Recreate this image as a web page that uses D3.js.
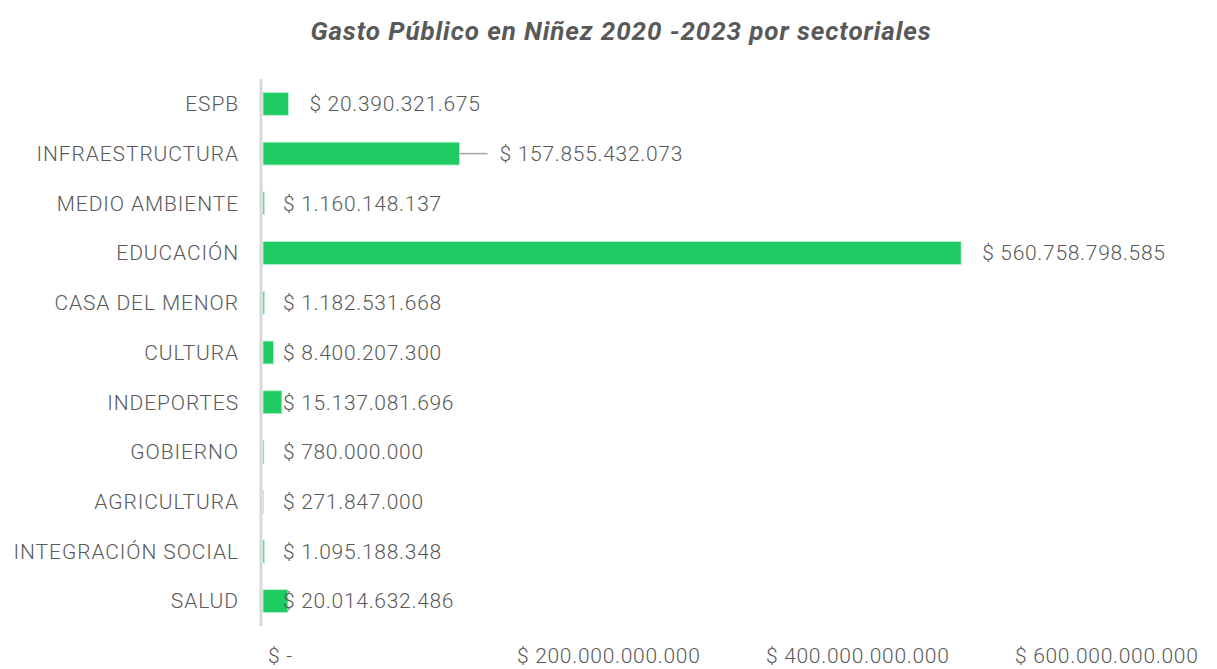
<!DOCTYPE html>
<html>
<head>
<meta charset="utf-8">
<script src="https://cdn.jsdelivr.net/npm/d3@7"></script>
<style>
  body { margin: 0; background: #fff; }
  text { font-family: Roboto, "Open Sans", sans-serif; fill: #595959; }
</style>
</head>
<body>
<svg id="gasto"></svg>
<script>
const sectors = ["ESPB", "INFRAESTRUCTURA", "MEDIO AMBIENTE", "EDUCACIÓN", "CASA DEL MENOR",
  "CULTURA", "INDEPORTES", "GOBIERNO", "AGRICULTURA", "INTEGRACIÓN SOCIAL", "SALUD"];
const amounts = [20390321675, 157855432073, 1160148137, 560758798585, 1182531668,
  8400207300, 15137081696, 780000000, 271847000, 1095188348, 20014632486];
const xTicks = [0, 200000000000, 400000000000, 600000000000];
const xTickLabels = ["$ -", "$ 200.000.000.000", "$ 400.000.000.000", "$ 600.000.000.000"];
// labels that sit after the bar end (the rest sit next to the axis)
const labelAtBarEnd = ["ESPB", "INFRAESTRUCTURA", "EDUCACIÓN"];
const leaderSectors = ["INFRAESTRUCTURA"];

const data = sectors.map((s, i) => ({sector: s, value: amounts[i]}));

const W = 1217, H = 669;
const svg = d3.select("#gasto").attr("width", W).attr("height", H);

const x = d3.scaleLinear().domain([0, 600000000000]).range([263, 1010]);
const y = d3.scaleBand().domain(sectors).range([79, 626]).paddingInner(0.54).paddingOuter(0.27);

const fmt = v => "$ " + d3.format(",")(v).replace(/,/g, ".");

svg.append("text")
  .attr("x", 621).attr("y", 40)
  .attr("text-anchor", "middle")
  .style("font-size", "26px").style("font-weight", "700").style("font-style", "italic")
  .style("letter-spacing", "0.9px")
  .text("Gasto Público en Niñez 2020 -2023 por sectoriales");

// category labels
svg.append("g").selectAll("text")
  .data(data).join("text")
  .attr("x", 239)
  .attr("y", d => y(d.sector) + y.bandwidth() / 2)
  .attr("dy", "0.35em")
  .attr("text-anchor", "end")
  .style("font-size", "21px").style("font-weight", "300")
  .style("letter-spacing", "0.9px")
  .text(d => d.sector);

// x tick labels
svg.append("g").selectAll("text")
  .data(xTicks).join("text")
  .attr("x", d => x(d) + 5)
  .attr("y", 656)
  .attr("dy", "0.35em")
  .style("font-size", "21px").style("font-weight", "300")
  .style("letter-spacing", "0.7px")
  .text((d, i) => xTickLabels[i]);

// bars
svg.append("g").selectAll("rect")
  .data(data).join("rect")
  .attr("x", x(0))
  .attr("y", d => y(d.sector))
  .attr("width", d => x(d.value) - x(0))
  .attr("height", y.bandwidth())
  .attr("fill", "#1fcb63")
  .attr("stroke", "#b8f0cc")
  .attr("stroke-width", 0.8);

// axis line
svg.append("line")
  .attr("x1", 261).attr("x2", 261)
  .attr("y1", 79).attr("y2", 626)
  .style("stroke", "#d9d9d9").style("stroke-width", "3px");

const labelX = d => {
  if (leaderSectors.includes(d.sector)) return x(d.value) + 40;
  if (labelAtBarEnd.includes(d.sector)) return x(d.value) + 21;
  return x(0) + 20;
};

// leader lines
svg.append("g").selectAll("line")
  .data(data.filter(d => leaderSectors.includes(d.sector))).join("line")
  .attr("x1", d => x(d.value)).attr("x2", d => x(d.value) + 28)
  .attr("y1", d => y(d.sector) + y.bandwidth() / 2)
  .attr("y2", d => y(d.sector) + y.bandwidth() / 2)
  .style("stroke", "#a6a6a6").style("stroke-width", "1.5px");

// value labels
svg.append("g").selectAll("text")
  .data(data).join("text")
  .attr("x", labelX)
  .attr("y", d => y(d.sector) + y.bandwidth() / 2)
  .attr("dy", "0.35em")
  .style("font-size", "21px").style("font-weight", "300")
  .style("letter-spacing", "0.7px")
  .text(d => fmt(d.value));
</script>
</body>
</html>
